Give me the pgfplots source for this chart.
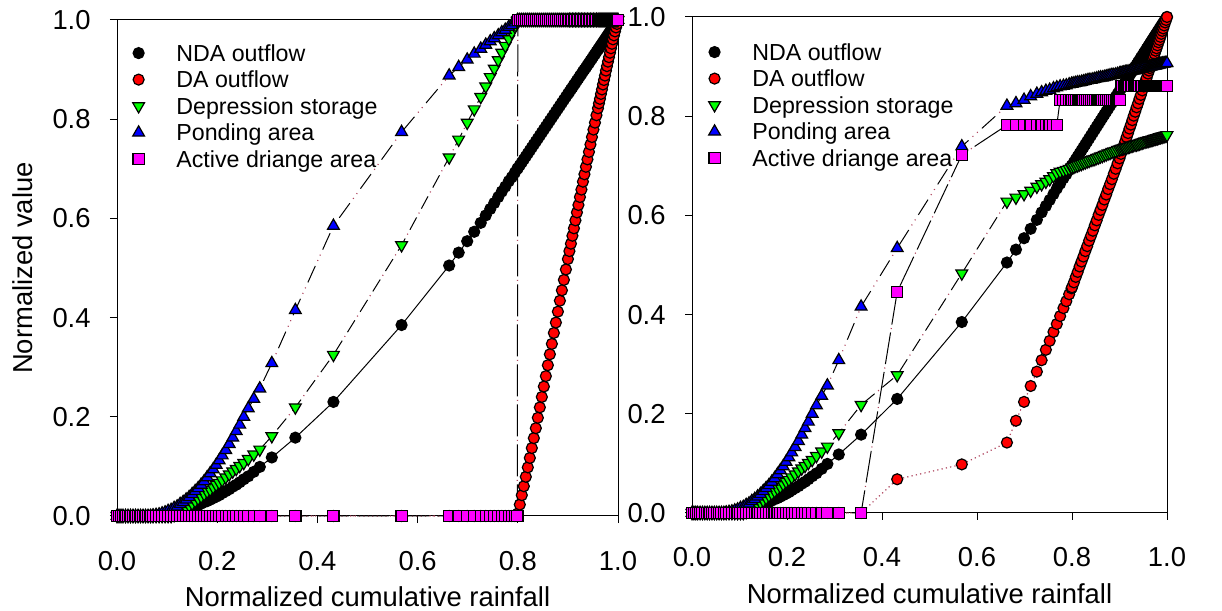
\documentclass[border=0pt]{standalone}
\usepackage{fontspec}
\setmainfont{Liberation Sans}
\usepackage{pgfplots}
\usepackage{pgfplotstable}
\pgfplotsset{compat=1.18}
\definecolor{dotred}{RGB}{175,70,95}
\definecolor{mag}{RGB}{255,0,255}
\definecolor{grn}{RGB}{0,255,0}
\definecolor{blu}{RGB}{0,0,255}
\definecolor{rd}{RGB}{255,0,0}

\pgfplotstableread{
x nda da ds pa ada
0.000 0 0 0 0 0
0.004 0 0 0 0 0
0.008 0 0 0 0 0
0.012 0 0 0 0 0
0.017 0 0 0 0 0
0.022 0 0 0 0 0
0.027 0 0 0 0 0
0.032 0 0 0 0 0
0.037 0 0 0 0 0
0.042 0 0 0 0 0
0.047 0 0 0 0 0
0.052 0 0 0 0 0
0.057 0 0 0 0 0
0.062 0 0 0 0 0
0.067 0.001 0 0 0 0
0.072 0.001 0 0 0.001 0
0.078 0.001 0 0 0.002 0
0.084 0.002 0 0 0.003 0
0.090 0.003 0 0 0.005 0
0.096 0.004 0 0 0.007 0
0.102 0.005 0 0 0.010 0
0.108 0.006 0 0 0.012 0
0.114 0.007 0 0.002 0.016 0
0.120 0.009 0 0.005 0.019 0
0.126 0.010 0 0.009 0.024 0
0.132 0.012 0 0.013 0.028 0
0.138 0.014 0 0.017 0.033 0
0.144 0.016 0 0.021 0.038 0
0.150 0.018 0 0.025 0.044 0
0.156 0.020 0 0.030 0.050 0
0.162 0.022 0 0.035 0.056 0
0.168 0.025 0 0.039 0.063 0
0.174 0.028 0 0.044 0.070 0
0.180 0.030 0 0.049 0.078 0
0.186 0.033 0 0.053 0.086 0
0.192 0.036 0 0.058 0.094 0
0.198 0.039 0 0.063 0.103 0
0.204 0.042 0 0.067 0.112 0
0.210 0.046 0 0.072 0.122 0
0.217 0.050 0 0.078 0.133 0
0.224 0.054 0 0.084 0.145 0
0.231 0.059 0 0.090 0.158 0
0.238 0.063 0 0.095 0.171 0
0.245 0.068 0 0.101 0.184 0
0.253 0.074 0 0.107 0.200 0
0.262 0.080 0 0.115 0.217 0
0.273 0.089 0 0.124 0.236 0
0.285 0.099 0 0.134 0.257 0
0.309 0.118 0 0.161 0.308 0
0.356 0.158 0 0.219 0.415 0
0.432 0.230 0 0.325 0.585 0
0.568 0.385 0 0.546 0.774 0
0.663 0.505 0 0.723 0.888 0
0.682 0.531 0 0.759 0.905 0
0.699 0.554 0 0.793 0.920 0
0.713 0.573 0 0.820 0.932 0
0.726 0.591 0 0.845 0.942 0
0.736 0.606 0 0.866 0.950 0
0.745 0.619 0 0.885 0.957 0
0.753 0.631 0 0.902 0.963 0
0.761 0.643 0 0.919 0.969 0
0.768 0.654 0 0.934 0.975 0
0.775 0.664 0 0.948 0.980 0
0.782 0.675 0 0.962 0.986 0
0.788 0.683 0 0.975 0.990 0
0.794 0.692 0 0.987 0.995 0
0.799 0.700 0 0.998 0.999 0
0.800 0.701 0.005 1 1 1
0.804 0.707 0.023 1 1 1
0.808 0.713 0.042 1 1 1
0.812 0.719 0.060 1 1 1
0.816 0.725 0.079 1 1 1
0.820 0.731 0.098 1 1 1
0.824 0.737 0.117 1 1 1
0.828 0.743 0.137 1 1 1
0.832 0.749 0.157 1 1 1
0.836 0.755 0.177 1 1 1
0.840 0.761 0.198 1 1 1
0.844 0.767 0.219 1 1 1
0.848 0.773 0.240 1 1 1
0.852 0.779 0.261 1 1 1
0.856 0.785 0.282 1 1 1
0.860 0.791 0.304 1 1 1
0.864 0.797 0.326 1 1 1
0.868 0.803 0.347 1 1 1
0.872 0.809 0.369 1 1 1
0.876 0.815 0.390 1 1 1
0.880 0.821 0.412 1 1 1
0.884 0.827 0.434 1 1 1
0.888 0.833 0.455 1 1 1
0.892 0.839 0.476 1 1 1
0.896 0.845 0.497 1 1 1
0.900 0.851 0.518 1 1 1
0.903 0.855 0.534 1 1 1
0.906 0.860 0.549 1 1 1
0.909 0.864 0.565 1 1 1
0.912 0.869 0.580 1 1 1
0.915 0.873 0.596 1 1 1
0.918 0.878 0.612 1 1 1
0.921 0.882 0.627 1 1 1
0.924 0.887 0.643 1 1 1
0.927 0.891 0.658 1 1 1
0.930 0.896 0.674 1 1 1
0.933 0.900 0.689 1 1 1
0.936 0.904 0.704 1 1 1
0.939 0.909 0.719 1 1 1
0.942 0.913 0.734 1 1 1
0.945 0.918 0.749 1 1 1
0.948 0.922 0.764 1 1 1
0.951 0.927 0.779 1 1 1
0.954 0.931 0.793 1 1 1
0.957 0.936 0.808 1 1 1
0.960 0.940 0.822 1 1 1
0.962 0.943 0.832 1 1 1
0.964 0.946 0.841 1 1 1
0.966 0.949 0.851 1 1 1
0.968 0.952 0.860 1 1 1
0.970 0.955 0.870 1 1 1
0.972 0.958 0.879 1 1 1
0.974 0.961 0.888 1 1 1
0.976 0.964 0.898 1 1 1
0.978 0.967 0.907 1 1 1
0.980 0.970 0.916 1 1 1
0.982 0.973 0.925 1 1 1
0.984 0.976 0.934 1 1 1
0.986 0.979 0.943 1 1 1
0.988 0.982 0.952 1 1 1
0.990 0.985 0.961 1 1 1
0.992 0.988 0.969 1 1 1
0.994 0.991 0.977 1 1 1
0.996 0.994 0.985 1 1 1
0.998 0.997 0.992 1 1 1
1.000 1.000 1.000 1 1 1
}\tabL

\pgfplotstableread{
x nda da ds pa ada
0.000 0 0 0 0 0
0.004 0 0 0 0 0
0.008 0 0 0 0 0
0.012 0 0 0 0 0
0.017 0 0 0 0 0
0.022 0 0 0 0 0
0.027 0 0 0 0 0
0.032 0 0 0 0 0
0.037 0 0 0 0 0
0.042 0 0 0 0 0
0.047 0 0 0 0 0
0.052 0 0 0 0 0
0.057 0 0 0 0 0
0.062 0 0 0 0 0
0.067 0.001 0 0 0 0
0.072 0.001 0 0 0.001 0
0.078 0.001 0 0 0.002 0
0.084 0.002 0 0 0.003 0
0.090 0.003 0 0 0.005 0
0.096 0.004 0 0 0.007 0
0.102 0.005 0 0 0.010 0
0.108 0.006 0 0 0.012 0
0.114 0.007 0 0.002 0.016 0
0.120 0.009 0 0.005 0.019 0
0.126 0.010 0 0.009 0.024 0
0.132 0.012 0 0.013 0.028 0
0.138 0.014 0 0.017 0.033 0
0.144 0.016 0 0.021 0.038 0
0.150 0.018 0 0.025 0.044 0
0.156 0.020 0 0.030 0.050 0
0.162 0.022 0 0.035 0.056 0
0.168 0.025 0 0.039 0.063 0
0.174 0.028 0 0.044 0.070 0
0.180 0.030 0 0.049 0.078 0
0.186 0.033 0 0.053 0.086 0
0.192 0.036 0 0.058 0.094 0
0.198 0.039 0 0.063 0.103 0
0.204 0.042 0 0.067 0.112 0
0.210 0.046 0 0.072 0.122 0
0.217 0.050 0 0.078 0.133 0
0.224 0.054 0 0.084 0.145 0
0.231 0.059 0 0.090 0.158 0
0.238 0.063 0 0.095 0.171 0
0.245 0.068 0 0.101 0.184 0
0.253 0.074 0 0.107 0.200 0
0.262 0.080 0 0.115 0.217 0
0.273 0.089 0 0.124 0.236 0
0.285 0.099 0 0.134 0.257 0
0.309 0.118 0 0.161 0.308 0
0.356 0.158 0 0.218 0.416 0
0.432 0.230 0.068 0.278 0.534 0.446
0.568 0.385 0.098 0.483 0.739 0.722
0.663 0.505 0.142 0.628 0.821 0.782
0.682 0.531 0.186 0.636 0.826 0.782
0.699 0.554 0.224 0.643 0.833 0.782
0.713 0.573 0.256 0.650 0.840 0.782
0.726 0.591 0.285 0.658 0.845 0.782
0.736 0.606 0.308 0.663 0.848 0.782
0.745 0.619 0.329 0.668 0.851 0.782
0.753 0.631 0.347 0.673 0.853 0.782
0.761 0.643 0.365 0.679 0.856 0.782
0.768 0.654 0.381 0.685 0.858 0.782
0.775 0.664 0.397 0.688 0.860 0.833
0.782 0.675 0.413 0.690 0.861 0.833
0.788 0.683 0.427 0.692 0.862 0.833
0.794 0.692 0.441 0.694 0.864 0.833
0.799 0.700 0.453 0.696 0.865 0.833
0.800 0.701 0.455 0.697 0.865 0.833
0.804 0.707 0.465 0.698 0.866 0.833
0.808 0.713 0.476 0.700 0.867 0.833
0.812 0.719 0.486 0.701 0.868 0.833
0.816 0.725 0.497 0.703 0.868 0.833
0.820 0.731 0.507 0.704 0.869 0.833
0.824 0.737 0.517 0.706 0.870 0.833
0.828 0.743 0.528 0.707 0.871 0.833
0.832 0.749 0.538 0.709 0.872 0.833
0.836 0.755 0.549 0.710 0.873 0.833
0.840 0.761 0.559 0.712 0.873 0.833
0.844 0.767 0.569 0.713 0.874 0.833
0.848 0.773 0.580 0.714 0.875 0.833
0.852 0.779 0.590 0.716 0.876 0.833
0.856 0.785 0.601 0.717 0.877 0.833
0.860 0.791 0.611 0.719 0.878 0.833
0.864 0.797 0.621 0.720 0.878 0.833
0.868 0.803 0.632 0.722 0.879 0.833
0.872 0.809 0.642 0.723 0.880 0.833
0.876 0.815 0.653 0.725 0.881 0.833
0.880 0.821 0.663 0.726 0.882 0.833
0.884 0.827 0.673 0.728 0.883 0.833
0.888 0.833 0.684 0.729 0.883 0.833
0.892 0.839 0.694 0.730 0.884 0.833
0.896 0.845 0.705 0.732 0.885 0.833
0.900 0.851 0.715 0.733 0.886 0.833
0.903 0.855 0.724 0.734 0.887 0.861
0.906 0.860 0.732 0.735 0.887 0.861
0.909 0.864 0.741 0.736 0.888 0.861
0.912 0.869 0.749 0.736 0.889 0.861
0.915 0.873 0.758 0.737 0.889 0.861
0.918 0.878 0.766 0.738 0.890 0.861
0.921 0.882 0.775 0.739 0.890 0.861
0.924 0.887 0.783 0.740 0.891 0.861
0.927 0.891 0.792 0.741 0.892 0.861
0.930 0.896 0.801 0.742 0.892 0.861
0.933 0.900 0.809 0.743 0.893 0.861
0.936 0.904 0.818 0.743 0.893 0.861
0.939 0.909 0.826 0.744 0.894 0.861
0.942 0.913 0.835 0.745 0.895 0.861
0.945 0.918 0.843 0.746 0.895 0.861
0.948 0.922 0.852 0.747 0.896 0.861
0.951 0.927 0.860 0.748 0.897 0.861
0.954 0.931 0.869 0.749 0.897 0.861
0.957 0.936 0.877 0.750 0.898 0.861
0.960 0.940 0.886 0.750 0.899 0.861
0.962 0.943 0.892 0.751 0.899 0.861
0.964 0.946 0.897 0.752 0.900 0.861
0.966 0.949 0.903 0.752 0.900 0.861
0.968 0.952 0.909 0.753 0.901 0.861
0.970 0.955 0.915 0.753 0.901 0.861
0.972 0.958 0.920 0.754 0.902 0.861
0.974 0.961 0.926 0.755 0.902 0.861
0.976 0.964 0.932 0.755 0.902 0.861
0.978 0.967 0.937 0.756 0.903 0.861
0.980 0.970 0.943 0.756 0.903 0.861
0.982 0.973 0.949 0.757 0.904 0.861
0.984 0.976 0.954 0.758 0.904 0.861
0.986 0.979 0.960 0.758 0.905 0.861
0.988 0.982 0.966 0.759 0.905 0.861
0.990 0.985 0.972 0.759 0.906 0.861
0.992 0.988 0.977 0.760 0.906 0.861
0.994 0.991 0.983 0.760 0.906 0.861
0.996 0.994 0.989 0.761 0.907 0.861
0.998 0.997 0.994 0.761 0.907 0.861
1.000 1.000 1.000 0.762 0.907 0.861
}\tabR

\pgfplotsset{
  panel/.style={
    scale only axis, height=248pt,
    xmin=0, xmax=1, ymin=0, ymax=1, clip=false,
    axis line style={line width=0.5pt, black},
    xtick={0,0.2,0.4,0.6,0.8,1}, xticklabels={0.0,0.2,0.4,0.6,0.8,1.0},
    ytick={0,0.2,0.4,0.6,0.8,1}, yticklabels={0.0,0.2,0.4,0.6,0.8,1.0},
    tick align=outside, major tick length=3.5pt, xtick pos=bottom, ytick pos=left,
    tick style={line width=0.5pt, black},
    tick label style={font=\fontsize{13.7}{16}\selectfont},
    xticklabel style={anchor=base, inner sep=0pt, yshift=-23.5pt},
    yticklabel style={anchor=east, inner sep=0pt, xshift=-9.5pt},
    label style={font=\fontsize{13.7}{16}\selectfont},
    xlabel={Normalized cumulative rainfall},
    xlabel style={at={(axis description cs:0.5,-0.1815)}, anchor=base},
    legend cell align=left,
    legend style={anchor=north west, draw=none, fill=none, inner sep=0pt, outer sep=0pt,
      row sep=0pt, column sep=0pt, font=\fontsize{11.6}{13}\selectfont,
      nodes={inner sep=0pt, text height=10.78pt, text depth=2.48pt}},
    legend image code/.code={\draw[##1] plot[only marks] coordinates {(0pt,0pt)}; \path (-6pt,0pt) (18.6pt,0pt);},
  },
  ndaS/.style={black, line width=0.5pt, mark=*, mark size=2.75pt,
    mark options={solid, fill=black, draw=black, line width=0.6pt}},
  daS/.style={dotred, line width=0.6pt, dash pattern=on 0.6pt off 1.6pt, mark=*, mark size=2.75pt,
    mark options={solid, fill=rd, draw=black, line width=0.6pt}},
  dsdots/.style={forget plot, dotred, line width=0.6pt, dash pattern=on 0.5pt off 11.5pt, dash phase=2.75pt, mark=none},
  dsS/.style={black, line width=0.5pt, dash pattern=on 7pt off 5pt, mark=triangle*, mark size=3.4pt,
    mark options={solid, rotate=180, fill=grn, draw=black, line width=0.6pt}},
  padots/.style={forget plot, dotred, line width=0.6pt, dash pattern=on 0.5pt off 2.5pt on 0.5pt off 14.5pt, dash phase=6.25pt, mark=none},
  paS/.style={black, line width=0.5pt, dash pattern=on 9pt off 9pt, mark=triangle*, mark size=3.4pt,
    mark options={solid, fill=blu, draw=black, line width=0.6pt}},
  adadots/.style={forget plot, dotred, line width=0.6pt, dash pattern=on 0.5pt off 19.5pt, dash phase=2.25pt, mark=none},
  adaS/.style={black, line width=0.5pt, dash pattern=on 16pt off 4pt, mark=square*, mark size=2.8pt,
    mark options={solid, fill=mag, draw=black, line width=0.6pt}},
}

\begin{document}
\begin{tikzpicture}
\path[use as bounding box] (0pt,0pt) rectangle (611pt,305.5pt);

\begin{axis}[panel, at={(58.5pt,47.5pt)}, anchor=south west, width=250.5pt,
  ylabel={Normalized value},
  ylabel style={at={(axis description cs:-0.1677,0.5)}, anchor=base},
  legend style={at={(axis description cs:0.018,0.960)}}]
\addplot[ndaS] table[x=x, y=nda] {\tabL};
\addplot[daS] table[x=x, y=da] {\tabL};
\addplot[dsdots] table[x=x, y=ds] {\tabL};
\addplot[dsS] table[x=x, y=ds] {\tabL};
\addplot[padots] table[x=x, y=pa] {\tabL};
\addplot[paS] table[x=x, y=pa] {\tabL};
\addplot[adadots] table[x=x, y=ada] {\tabL};
\addplot[adaS] table[x=x, y=ada] {\tabL};
\legend{NDA outflow, DA outflow, Depression storage, Ponding area, Active driange area}
\end{axis}

\begin{axis}[panel, at={(346pt,49pt)}, anchor=south west, width=237.5pt,
  legend style={at={(axis description cs:0.021,0.956)}}]
\addplot[ndaS] table[x=x, y=nda] {\tabR};
\addplot[daS] table[x=x, y=da] {\tabR};
\addplot[dsdots] table[x=x, y=ds] {\tabR};
\addplot[dsS] table[x=x, y=ds] {\tabR};
\addplot[padots] table[x=x, y=pa] {\tabR};
\addplot[paS] table[x=x, y=pa] {\tabR};
\addplot[adadots] table[x=x, y=ada] {\tabR};
\addplot[adaS] table[x=x, y=ada] {\tabR};
\legend{NDA outflow, DA outflow, Depression storage, Ponding area, Active driange area}
\end{axis}
\end{tikzpicture}
\end{document}
